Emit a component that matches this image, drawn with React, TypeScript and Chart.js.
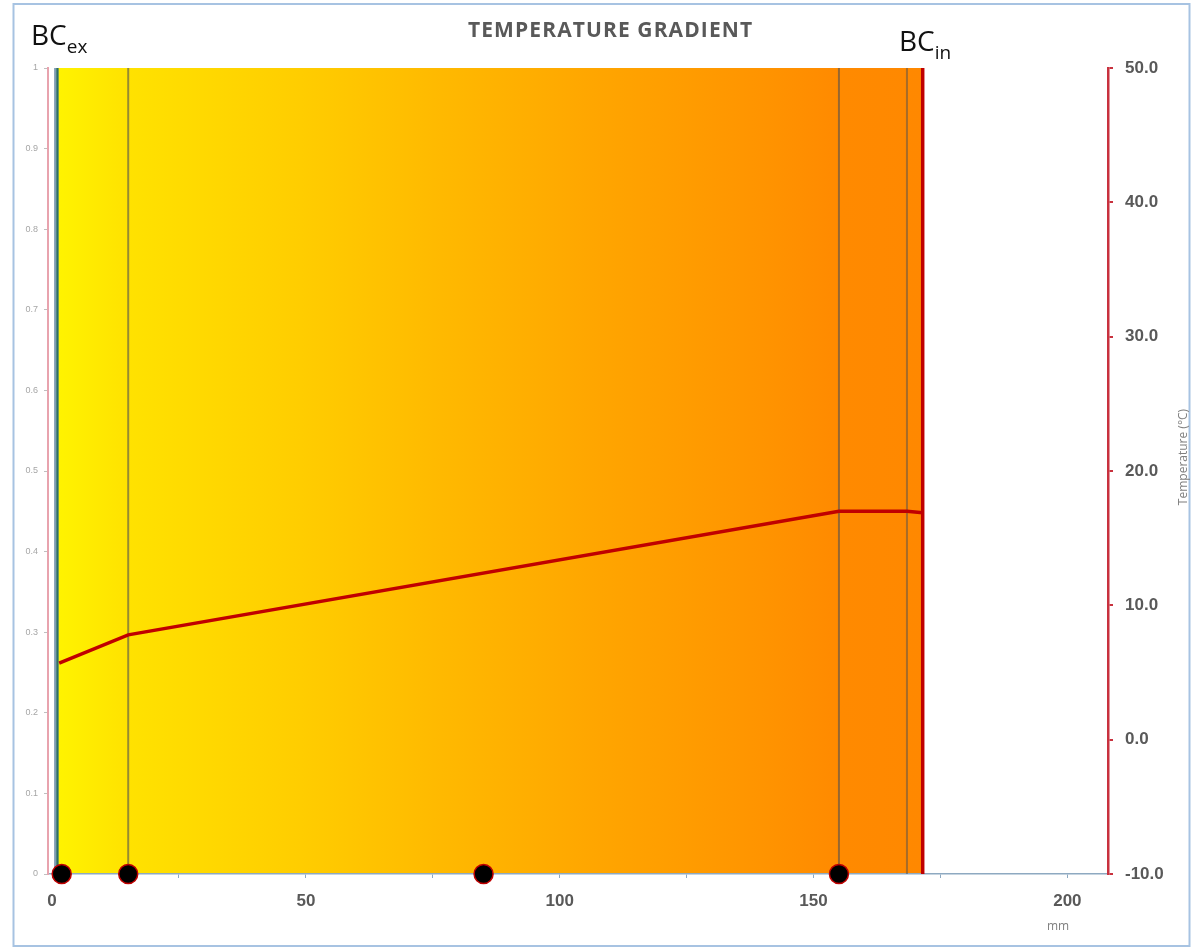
import React, { useEffect, useRef } from 'react';
import { Chart, registerables } from 'chart.js';

Chart.register(...registerables);

// ---- data ----
const tempPositionsMm = [1.4, 15, 155, 168.4, 171.5];
const temperaturesC = [5.7, 7.8, 17.0, 17.0, 16.9];

const interfacePositionsMm = [0.6, 1.05, 15, 155, 168.4, 171.5];
const interfaceColors = ['#7F9DB5', '#2F6F66', 'rgba(80,80,80,0.6)', 'rgba(80,80,80,0.6)', 'rgba(80,80,80,0.5)', '#C00000'];
const interfaceWidths = [2, 2.5, 2, 2, 2, 3.5];

const markerPositionsMm = [1.9, 15, 85, 155];

const gradientStopsMm = [1.2, 15, 49, 76.6, 108, 139.6, 155, 171.5];
const gradientColors = ['#FFF300', '#FFE200', '#FFCD00', '#FFB900', '#FFA500', '#FF9400', '#FF8A00', '#FF8800'];

const xMin = -0.8;
const xMax = 208;
const xTickStep = 25;
const xLabelStep = 50;
const leftMin = 0;
const leftMax = 1;
const leftStep = 0.1;
const rightMin = -10;
const rightMax = 50;
const rightStep = 10;

const chartTitle = 'TEMPERATURE GRADIENT';
const xTitle = 'mm';
const rightTitle = 'Temperature (°C)';

const decorPlugin = {
  id: 'decor',
  beforeDraw(chart: any) {
    const { ctx, chartArea, scales } = chart;
    const xs = scales.x;
    ctx.save();
    ctx.fillStyle = '#ffffff';
    ctx.fillRect(0, 0, chart.width, chart.height);
    // frame
    ctx.strokeStyle = '#A7C3E2';
    ctx.lineWidth = 2;
    ctx.strokeRect(13.5, 4, 1176, 942);
    // gradient band
    const p0 = xs.getPixelForValue(gradientStopsMm[0]);
    const p1 = xs.getPixelForValue(gradientStopsMm[gradientStopsMm.length - 1]);
    const g = ctx.createLinearGradient(p0, 0, p1, 0);
    gradientStopsMm.forEach((v, i) => {
      const p = xs.getPixelForValue(v);
      g.addColorStop(Math.min(1, Math.max(0, (p - p0) / (p1 - p0))), gradientColors[i]);
    });
    ctx.fillStyle = g;
    ctx.fillRect(p0, chartArea.top, p1 - p0, chartArea.bottom - chartArea.top);
    ctx.restore();
  },
  afterDraw(chart: any) {
    const { ctx } = chart;
    ctx.save();
    // title
    ctx.fillStyle = '#595959';
    ctx.font = 'bold 21px "Open Sans"';
    ctx.textBaseline = 'alphabetic';
    ctx.textAlign = 'left';
    const targetW = 284;
    const w = ctx.measureText(chartTitle).width;
    const ls = Math.max(0, (targetW - w) / (chartTitle.length - 1));
    try { (ctx as any).letterSpacing = ls.toFixed(2) + 'px'; } catch (e) {}
    ctx.fillText(chartTitle, 468, 37);
    try { (ctx as any).letterSpacing = '0px'; } catch (e) {}

    // BC labels
    ctx.fillStyle = '#111111';
    ctx.font = '28px "Open Sans"';
    ctx.fillText('BC', 31, 45);
    let bw = ctx.measureText('BC').width;
    ctx.font = '19px "Open Sans"';
    ctx.fillText('ex', 31 + bw, 53);
    ctx.font = '28px "Open Sans"';
    ctx.fillText('BC', 899, 51);
    bw = ctx.measureText('BC').width;
    ctx.font = '19px "Open Sans"';
    ctx.fillText('in', 899 + bw, 59);

    // axis titles
    ctx.fillStyle = '#7F7F7F';
    ctx.font = '12px "Open Sans"';
    ctx.textAlign = 'center';
    ctx.textBaseline = 'middle';
    ctx.fillText(xTitle, 1058, 927);
    ctx.translate(1184, 457);
    ctx.rotate(-Math.PI / 2);
    ctx.fillText(rightTitle, 0, 0);
    ctx.restore();
  },
};

export default function App() {
  const ref = useRef<HTMLCanvasElement>(null);
  useEffect(() => {
    const canvas = ref.current;
    if (!canvas) return;

    const interfaceDatasets = interfacePositionsMm.map((x, i) => ({
      type: 'scatter' as const,
      label: 'interface ' + i,
      data: [{ x, y: leftMin }, { x, y: leftMax }],
      yAxisID: 'yL',
      showLine: true,
      borderColor: interfaceColors[i],
      borderWidth: interfaceWidths[i],
      pointRadius: 0,
    }));

    const chart = new Chart(canvas, {
      type: 'scatter',
      data: {
        datasets: [
          {
            label: 'markers',
            data: markerPositionsMm.map((x) => ({ x, y: leftMin })),
            yAxisID: 'yL',
            pointRadius: 9.5,
            pointBackgroundColor: '#000000',
            pointBorderColor: '#C00000',
            pointBorderWidth: 1.5,
            clip: false as any,
          },
          {
            label: 'temperature',
            data: tempPositionsMm.map((x, i) => ({ x, y: temperaturesC[i] })),
            yAxisID: 'yR',
            showLine: true,
            borderColor: '#C00000',
            borderWidth: 3.5,
            pointRadius: 0,
          },
          ...interfaceDatasets,
        ] as any,
      },
      options: {
        responsive: false,
        animation: false,
        events: [],
        layout: { padding: { left: 24, right: 0, top: 68, bottom: 34 } },
        plugins: {
          legend: { display: false },
          tooltip: { enabled: false },
          title: { display: false },
        },
        scales: {
          x: {
            type: 'linear',
            position: 'bottom',
            min: xMin,
            max: xMax,
            afterFit: (s: any) => { s.height = 40; },
            ticks: {
              stepSize: xTickStep,
              includeBounds: false,
              autoSkip: false,
              maxRotation: 0,
              padding: 13,
              color: '#595959',
              font: { family: '"Liberation Sans", Arial', size: 17, weight: 'bold' },
              callback: (v: any) => (Math.abs(v % xLabelStep) < 1e-6 ? String(v) : ''),
            },
            grid: { drawOnChartArea: false, drawTicks: true, tickLength: 4, color: '#8EA9C1' },
            border: { display: true, color: '#8EA9C1', width: 1.5 },
          },
          yL: {
            type: 'linear',
            position: 'left',
            min: leftMin,
            max: leftMax,
            afterFit: (s: any) => { s.width = 24; },
            ticks: {
              stepSize: leftStep,
              padding: 6,
              color: '#A6A6A6',
              font: { family: '"Liberation Sans", Arial', size: 9 },
              callback: (v: any) => String(Math.round(v * 10) / 10),
            },
            grid: { drawOnChartArea: false, drawTicks: true, tickLength: 4, color: '#BFBFBF' },
            border: { display: true, color: '#E8A3AE', width: 2 },
          },
          yR: {
            type: 'linear',
            position: 'right',
            min: rightMin,
            max: rightMax,
            afterFit: (s: any) => { s.width = 83; },
            ticks: {
              stepSize: rightStep,
              padding: 12,
              color: '#595959',
              font: { family: '"Liberation Sans", Arial', size: 17, weight: 'bold' },
              callback: (v: any) => Number(v).toFixed(1),
            },
            grid: { drawOnChartArea: false, drawTicks: true, tickLength: 5, color: '#C8313E', lineWidth: 2 },
            border: { display: true, color: '#C8313E', width: 2.5 },
          },
        },
      } as any,
      plugins: [decorPlugin],
    });
    return () => chart.destroy();
  }, []);

  return (
    <div style={{ position: 'fixed', left: 0, top: 0, width: 1191, height: 948, background: '#ffffff' }}>
      <canvas ref={ref} width={1191} height={948} style={{ display: 'block', width: 1191, height: 948 }} />
    </div>
  );
}
